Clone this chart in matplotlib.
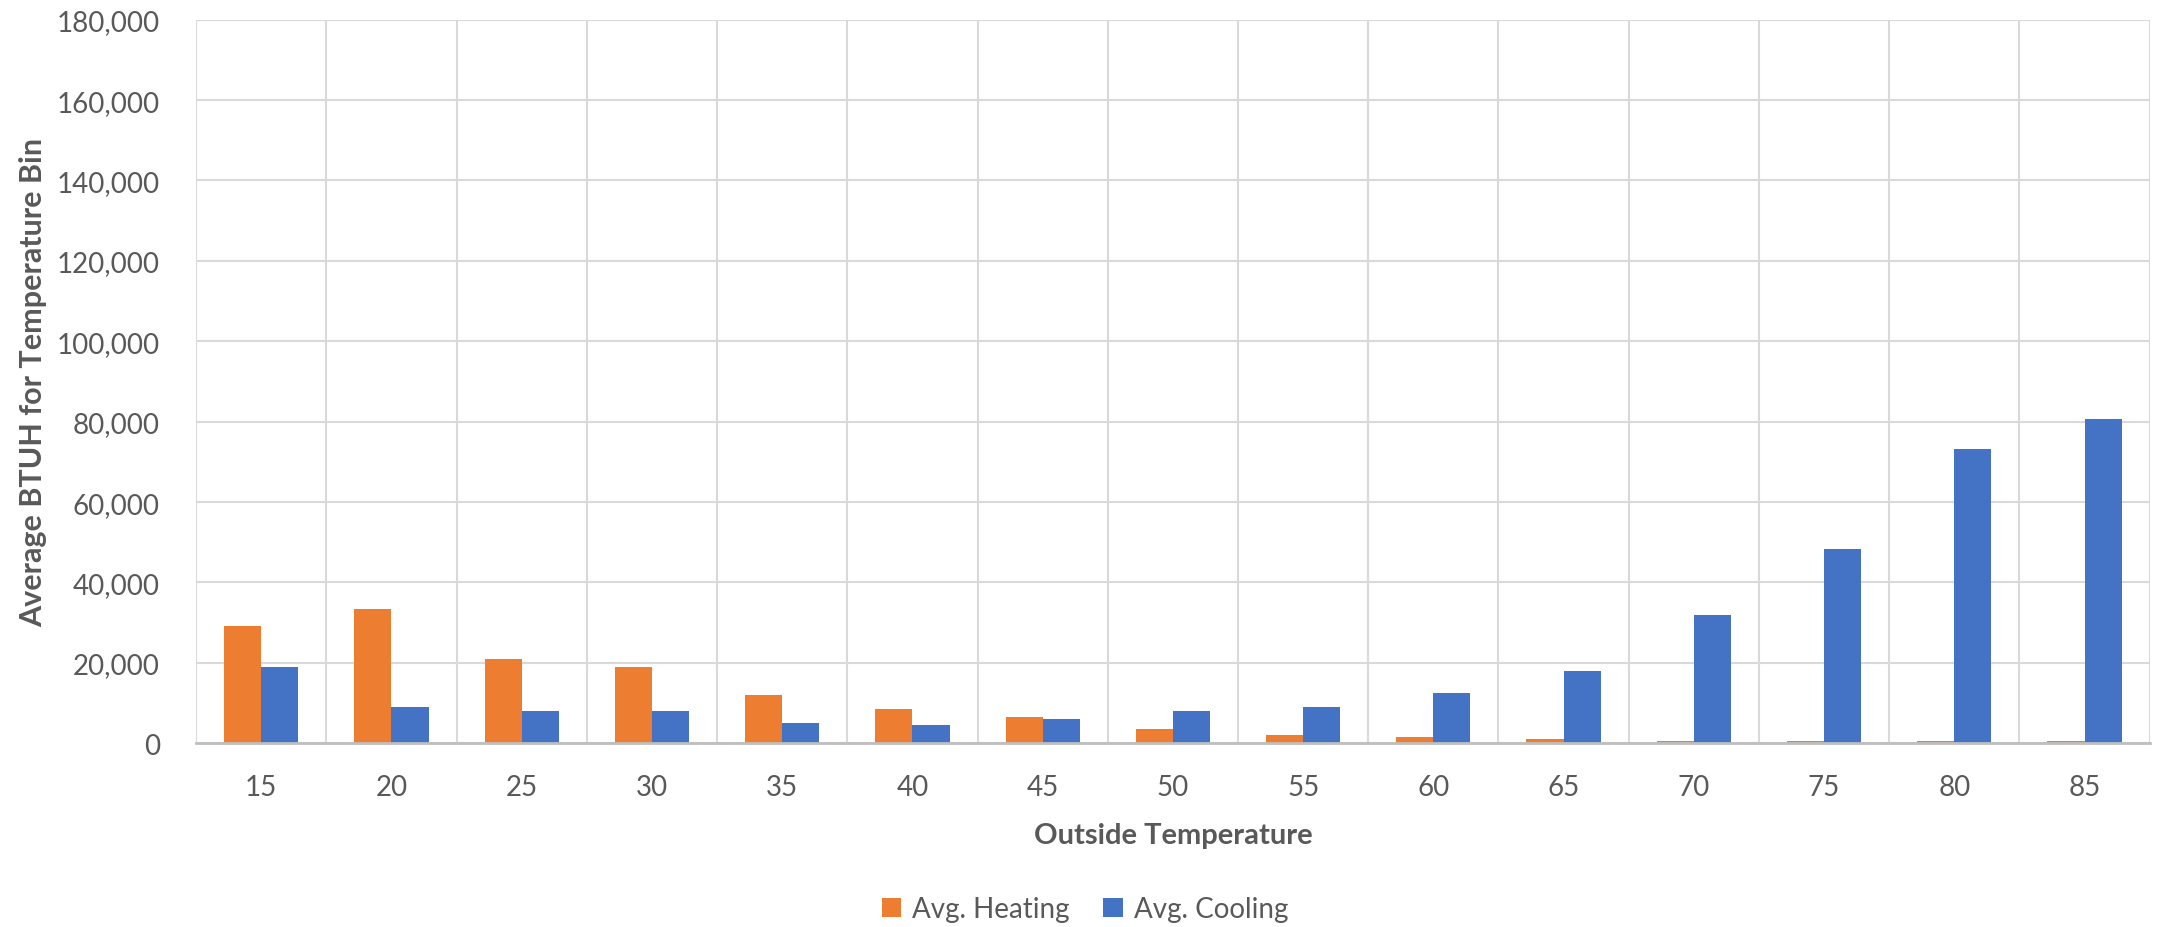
#!/usr/bin/env python3
"""Average BTUH per outside temperature bin, heating vs cooling."""
import matplotlib
matplotlib.use("Agg")
import matplotlib.pyplot as plt
import numpy as np
from matplotlib.ticker import FuncFormatter, MultipleLocator

temps = [15, 20, 25, 30, 35, 40, 45, 50, 55, 60, 65, 70, 75, 80, 85]
heating = [29200, 33300, 20900, 18900, 12000, 8500, 6500, 3500, 2050,
           1550, 1050, 550, 550, 550, 550]
cooling = [18900, 9000, 8000, 8000, 5000, 4500, 6000, 8000, 9000,
           12450, 17900, 31850, 48250, 73100, 80600]

ORANGE = "#ED7D31"
BLUE = "#4472C4"
GRID = "#D9D9D9"
TEXT = "#595959"

plt.rcParams["font.family"] = ["Lato", "DejaVu Sans"]

fig = plt.figure(figsize=(21.62, 9.28), dpi=100)
ax = fig.add_axes([0.0907, 0.198, 0.9036, 0.7797])

x = np.arange(len(temps))
w = 0.285
ax.bar(x - w / 2, heating, width=w, color=ORANGE, label="Avg. Heating", zorder=3)
ax.bar(x + w / 2, cooling, width=w, color=BLUE, label="Avg. Cooling", zorder=3)

ax.set_xlim(-0.5, len(temps) - 0.5)
ax.set_ylim(0, 180000)
ax.yaxis.set_major_locator(MultipleLocator(20000))
ax.yaxis.set_major_formatter(FuncFormatter(lambda v, _: f"{int(v):,}"))
ax.set_xticks(x)
ax.set_xticklabels([str(t) for t in temps])

# Excel-style grid: horizontal at ticks, vertical at category boundaries
ax.grid(axis="y", color=GRID, linewidth=1.5, zorder=0)
for b in np.arange(-0.5, len(temps), 1.0):
    ax.axvline(b, color=GRID, linewidth=1.5, zorder=0)

for s in ("top", "right", "left"):
    ax.spines[s].set_visible(False)
ax.spines["bottom"].set_color("#BFBFBF")
ax.spines["bottom"].set_linewidth(2)
ax.spines["bottom"].set_zorder(4)

ax.tick_params(axis="both", length=0, labelsize=20, colors=TEXT)
ax.tick_params(axis="x", pad=22)
ax.tick_params(axis="y", pad=26)

ax.set_xlabel("Outside Temperature", fontsize=21, fontweight="bold",
              color=TEXT, labelpad=16)
fig.text(33 / 2162, 1 - 382 / 928, "Average BTUH for Temperature Bin",
         rotation=90, ha="center", va="center", fontsize=22,
         fontweight="bold", color=TEXT)

fig.legend(loc="center", bbox_to_anchor=(1085 / 2162, 1 - 910 / 928),
           ncol=2, frameon=False, fontsize=20, labelcolor=TEXT,
           handlelength=0.7, handleheight=0.7, handletextpad=0.4,
           columnspacing=1.2)

fig.savefig("out.png", dpi=100)
